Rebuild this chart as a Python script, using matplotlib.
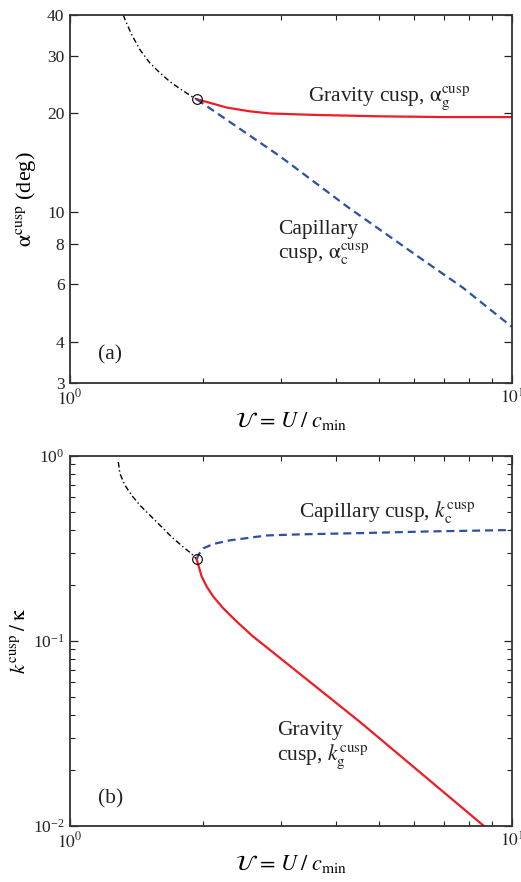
import matplotlib
matplotlib.use("Agg")
import matplotlib.pyplot as plt
from matplotlib.ticker import FixedLocator, NullFormatter, NullLocator

plt.rcParams["font.family"] = ["Liberation Serif", "DejaVu Serif"]
plt.rcParams["mathtext.fontset"] = "stix"

# ---- 图(a) 尖点角度 ----
black_a_x = [1.32, 1.332, 1.379, 1.440, 1.517, 1.598, 1.684, 1.789, 1.901, 1.935]
black_a_y = [40.0, 38.7, 34.8, 31.3, 28.5, 26.6, 25.0, 23.6, 22.4, 22.1]
red_a_x = [1.935, 1.986, 2.262, 2.553, 2.835, 3.55, 5.03, 7.0, 10.0]
red_a_y = [22.1, 21.9, 20.85, 20.3, 20.0, 19.8, 19.6, 19.5, 19.5]
blue_a_x = [1.935, 2.985, 4.23, 5.97, 7.75, 10.0]
blue_a_y = [22.1, 14.8, 10.4, 7.49, 5.86, 4.45]
cusp_a = (1.935, 22.1)
yticks_a = [3, 4, 6, 8, 10, 20, 30, 40]

# ---- 图(b) 尖点波数 ----
black_b_x = [1.286, 1.297, 1.332, 1.379, 1.440, 1.517, 1.598, 1.698, 1.804, 1.885, 1.935]
black_b_y = [0.928, 0.802, 0.694, 0.613, 0.541, 0.478, 0.422, 0.365, 0.322, 0.296, 0.276]
blue_b_x = [1.935, 1.951, 2.003, 2.11, 2.301, 2.79, 3.31, 4.53, 6.5, 10.0]
blue_b_y = [0.276, 0.292, 0.317, 0.3345, 0.350, 0.372, 0.377, 0.383, 0.391, 0.398]
red_b_x = [1.935, 1.951, 1.986, 2.039, 2.110, 2.222, 2.384, 2.598, 2.835, 4.53, 8.64, 9.0]
red_b_y = [0.276, 0.2575, 0.2227, 0.1966, 0.1736, 0.1502, 0.1272, 0.1055, 0.0894,
           0.0365, 0.01, 0.0092]
cusp_b = (1.935, 0.276)

RED = "#ee1c25"
BLUE = "#2e4fa3"
TXT = "#222222"

fig = plt.figure(figsize=(5.21, 8.82), dpi=100)
ax1 = fig.add_axes([0.1344, 0.5658, 0.8483, 0.4172])
ax2 = fig.add_axes([0.1344, 0.0635, 0.8483, 0.4195])

xlab = r"$\mathcal{U}\,=\,U\;/\;c_{\mathrm{min}}$"

for ax in (ax1, ax2):
    ax.set_xscale("log")
    ax.set_yscale("log")
    ax.set_xlim(1, 10)
    ax.xaxis.set_major_locator(FixedLocator([1, 10]))
    ax.set_xticklabels([r"$10^0$", r"$10^1$"])
    ax.xaxis.set_minor_locator(FixedLocator(range(2, 10)))
    ax.xaxis.set_minor_formatter(NullFormatter())
    ax.tick_params(which="both", direction="in", top=True, right=True,
                   labelsize=12.5, colors=TXT)
    ax.tick_params(which="major", length=6, width=0.9, pad=4)
    ax.tick_params(which="minor", length=3.5, width=0.8)
    for s in ax.spines.values():
        s.set_linewidth(1.3)
        s.set_color("#333333")
    ax.set_xlabel(xlab, fontsize=16, labelpad=1)

# (a)
ax1.plot(black_a_x, black_a_y, color="black", lw=1.0, dashes=(4, 2, 1, 2))
ax1.plot(red_a_x, red_a_y, color=RED, lw=1.6)
ax1.plot(blue_a_x, blue_a_y, color=BLUE, lw=1.6, dashes=(3.6, 2.2))
ax1.plot(*cusp_a, "o", mfc="none", mec="black", ms=7, mew=0.8)
ax1.set_ylim(3, 40)
ax1.yaxis.set_major_locator(FixedLocator(yticks_a))
ax1.set_yticklabels([str(v) for v in yticks_a])
ax1.yaxis.set_minor_locator(NullLocator())
ax1.set_ylabel(r"$\mathrm{\alpha}^{\mathrm{cusp}}$ (deg)", fontsize=16, labelpad=6)

ax1.text(3.46, 21.9, r"Gravity cusp, $\mathrm{\alpha}_{\mathrm{g}}^{\mathrm{cusp}}$",
         fontsize=15.5, va="baseline", color=TXT)
ax1.text(2.96, 8.57, "Capillary", fontsize=15.5, va="baseline", color=TXT)
ax1.text(2.96, 7.22, r"cusp, $\mathrm{\alpha}_{\mathrm{c}}^{\mathrm{cusp}}$",
         fontsize=15.5, va="baseline", color=TXT)
ax1.text(1.157, 3.55, "(a)", fontsize=15.5, va="baseline", color=TXT)

# (b)
ax2.plot(black_b_x, black_b_y, color="black", lw=1.0, dashes=(4, 2, 1, 2))
ax2.plot(blue_b_x, blue_b_y, color=BLUE, lw=1.6, dashes=(3.6, 2.2))
ax2.plot(red_b_x, red_b_y, color=RED, lw=1.6)
ax2.plot(*cusp_b, "o", mfc="none", mec="black", ms=7, mew=0.8)
ax2.set_ylim(0.01, 1)
ax2.set_ylabel(r"$k^{\mathrm{cusp}}\;/\;\mathrm{\kappa}$", fontsize=15, labelpad=2)

ax2.text(3.29, 0.47, r"Capillary cusp, $k_{\mathrm{c}}^{\mathrm{cusp}}$",
         fontsize=15.5, va="baseline", color=TXT)
ax2.text(2.94, 0.031, "Gravity", fontsize=15.5, va="baseline", color=TXT)
ax2.text(2.94, 0.0227, r"cusp, $k_{\mathrm{g}}^{\mathrm{cusp}}$",
         fontsize=15.5, va="baseline", color=TXT)
ax2.text(1.157, 0.0133, "(b)", fontsize=15.5, va="baseline", color=TXT)

plt.savefig("out.png", dpi=100)
plt.close()
